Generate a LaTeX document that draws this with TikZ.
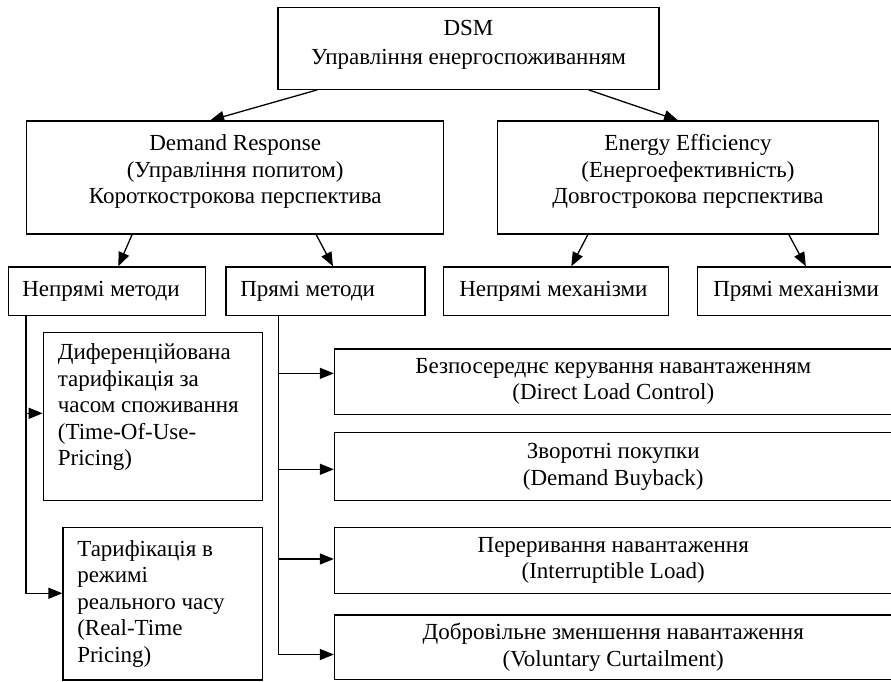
\documentclass[tikz,border=0pt]{standalone}
\usepackage{fontspec}
\setmainfont{Liberation Serif}
\usetikzlibrary{arrows.meta}
\begin{document}
\begin{tikzpicture}[x=1pt,y=-1pt,
  box/.style={draw, line width=1.3pt, inner sep=0pt, rectangle},
  txt/.style={inner sep=0pt, font=\fontsize{23}{26.5}\selectfont},
  arr/.style={line width=1.3pt, -{Triangle[length=14pt,width=11pt]}}]
\useasboundingbox (0,0) rectangle (891,681);
% top
\node[box, minimum width=381pt, minimum height=82pt] (dsm) at (468.5,48.2) {};
\node[txt, align=center] (dsmt) at ([yshift=3.2pt]dsm.center) {DSM\\[2pt]Управління енергоспоживанням};
% level 1
\node[box, minimum width=417pt, minimum height=113pt] (dr) at (235.2,177.5) {};
\node[txt, align=center] (drt) at ([yshift=5.8pt]dr.center) {Demand Response\\(Управління попитом)\\Короткострокова перспектива};
\node[box, minimum width=381pt, minimum height=113pt] (ee) at (688,177.5) {};
\node[txt, align=center] (eet) at ([yshift=5.8pt]ee.center) {Energy Efficiency\\(Енергоефективність)\\Довгострокова перспектива};
% level 2
\node[box, minimum width=197pt, minimum height=48.5pt] (nm) at (106.8,291.2) {};
\node[txt, anchor=west] (nmt) at ([xshift=14.5pt]nm.west) {Непрямі методи};
\node[box, minimum width=199pt, minimum height=48.5pt] (pm) at (325.5,291.2) {};
\node[txt, anchor=west] (pmt) at ([xshift=14.7pt]pm.west) {Прямі методи};
\node[box, minimum width=225pt, minimum height=48.5pt] (nmech) at (556.3,291.2) {};
\node[txt, anchor=west] (nmecht) at ([xshift=16pt]nmech.west) {Непрямі механізми};
\node[box, minimum width=194.2pt, minimum height=48.5pt] (pmech) at (794.9,291.2) {};
\node[txt, anchor=west] (pmecht) at ([xshift=16pt]pmech.west) {Прямі механізми};
% left column
\node[box, minimum width=219pt, minimum height=168pt] (tou) at (152.8,416.7) {};
\node[txt, align=left, anchor=west] (tout) at ([xshift=15pt,yshift=9.5pt]tou.west) {Диференційована\\тарифікація за\\часом споживання\\(Time-Of-Use-\\Pricing)};
\node[box, minimum width=199.3pt, minimum height=152.3pt] (rtp) at (162.65,603.85) {};
\node[txt, align=left, anchor=west] (rtpt) at ([xshift=14.7pt]rtp.west) {Тарифікація в\\режимі\\реального часу\\(Real-Time\\Pricing)};
% right column
\node[box, txt, align=center, minimum width=557.5pt, minimum height=65.3pt] (b1) at (613.25,381.65) {Безпосереднє керування навантаженням\\(Direct Load Control)};
\node[box, txt, align=center, minimum width=557.5pt, minimum height=68pt] (b2) at (613.25,466.7) {Зворотні покупки\\(Demand Buyback)};
\node[box, txt, align=center, minimum width=557.5pt, minimum height=65.8pt] (b3) at (613.25,560.4) {Переривання навантаження\\(Interruptible Load)};
\node[box, txt, align=center, minimum width=557.5pt, minimum height=64.3pt] (b4) at (613.25,647.2) {Добровільне зменшення навантаження\\(Voluntary Curtailment)};
% connectors
\draw[arr] ([xshift=40pt]dsm.south west) -- ([xshift=-25pt]dr.north);
\draw[arr] ([xshift=-71pt]dsm.south east) -- ([xshift=-10pt]ee.north);
\draw[arr] ([xshift=106pt]dr.south west) -- ([xshift=11.5pt]nm.north);
\draw[arr] ([xshift=81pt]dr.south) -- ([xshift=7.5pt]pm.north);
\draw[arr] ([xshift=91pt]ee.south west) -- ([xshift=15pt]nmech.north);
\draw[arr] ([xshift=292pt]ee.south west) -- ([xshift=11pt]pmech.north);
% left trunk
\coordinate (lt) at ([xshift=18.4pt]nm.south west);
\coordinate (tin) at ([yshift=3.4pt]tou.west);
\coordinate (rin) at ([yshift=10.6pt]rtp.west);
\draw[arr] (lt) |- (rin);
\draw[arr] (lt |- tin) -- (tin);
% right trunk
\coordinate (rt) at ([xshift=53pt]pm.south west);
\coordinate (b1in) at ([yshift=8.3pt]b1.west);
\coordinate (b2in) at ([yshift=-2.6pt]b2.west);
\coordinate (b3in) at ([yshift=1.4pt]b3.west);
\coordinate (b4in) at ([yshift=-7.3pt]b4.west);
\draw[arr] (rt) |- (b4in);
\draw[arr] (rt |- b1in) -- (b1in);
\draw[arr] (rt |- b2in) -- (b2in);
\draw[arr] (rt |- b3in) -- (b3in);
\end{tikzpicture}
\end{document}
